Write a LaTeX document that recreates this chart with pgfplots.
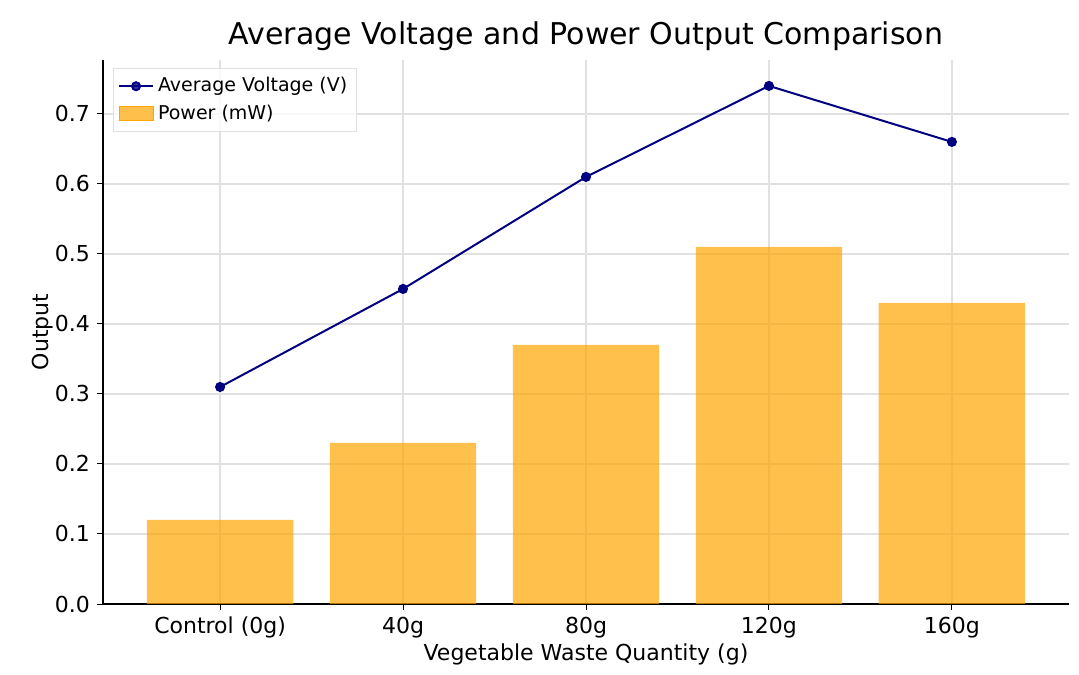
\documentclass[border=0pt]{standalone}
\usepackage{pgfplots}
\pgfplotsset{compat=1.18}
\usepackage{fontspec}
\setmainfont{DejaVu Sans}
\definecolor{mplorange}{RGB}{255,165,0}
\definecolor{navy}{RGB}{0,0,128}
\definecolor{gridgray}{RGB}{225,225,225}
\begin{document}
\begin{tikzpicture}
\begin{axis}[
  scale only axis,
  width=483bp, height=272bp,
  xmin=-0.64, xmax=4.64,
  ymin=0, ymax=0.777,
  axis lines*=left,
  axis line style={black, line width=0.6bp},
  xtick={0,1,2,3,4},
  xticklabels={Control (0g),40g,80g,120g,160g},
  ytick={0,0.1,0.2,0.3,0.4,0.5,0.6,0.7},
  yticklabel style={/pgf/number format/.cd, fixed, fixed zerofill, precision=1},
  /pgf/number format/assume math mode=true,
  tick align=outside,
  major tick length=3bp,
  tick style={black, line width=0.5bp},
  ticklabel style={font=\fontsize{11bp}{13bp}\selectfont},
  grid=major,
  major grid style={gridgray, line width=0.6bp},
  xlabel={Vegetable Waste Quantity (g)},
  ylabel={Output},
  label style={font=\fontsize{11bp}{13bp}\selectfont},
  xlabel style={yshift=4bp},
  ylabel style={yshift=-6bp},
  title={Average Voltage and Power Output Comparison},
  title style={font=\fontsize{15bp}{18bp}\selectfont, yshift=-5bp},
  legend style={font=\fontsize{9.5bp}{11bp}\selectfont, draw=gridgray, fill=white, fill opacity=0.8, text opacity=1, at={(0.01,0.985)}, anchor=north west, row sep=1bp, inner sep=2.5bp},
  legend cell align=left,
]
\addplot[ybar, bar width=0.8, fill=mplorange, fill opacity=0.7, draw=none, forget plot] coordinates {(0,0.12) (1,0.23) (2,0.37) (3,0.51) (4,0.43)};
\addplot[color=navy, line width=1bp, mark=*, mark size=2bp, mark options={fill=navy, draw=navy}] coordinates {(0,0.31) (1,0.45) (2,0.61) (3,0.74) (4,0.66)};
\addlegendentry{Average Voltage (V)}
\addlegendimage{legend image code/.code={\fill[mplorange, fill opacity=0.7] (0bp,-3.5bp) rectangle (17bp,3.5bp);}}
\addlegendentry{Power (mW)}
\end{axis}
\pgfresetboundingbox
\path[use as bounding box] (-51.5bp,-35.5bp) rectangle (488bp,302bp);
\end{tikzpicture}
\end{document}
